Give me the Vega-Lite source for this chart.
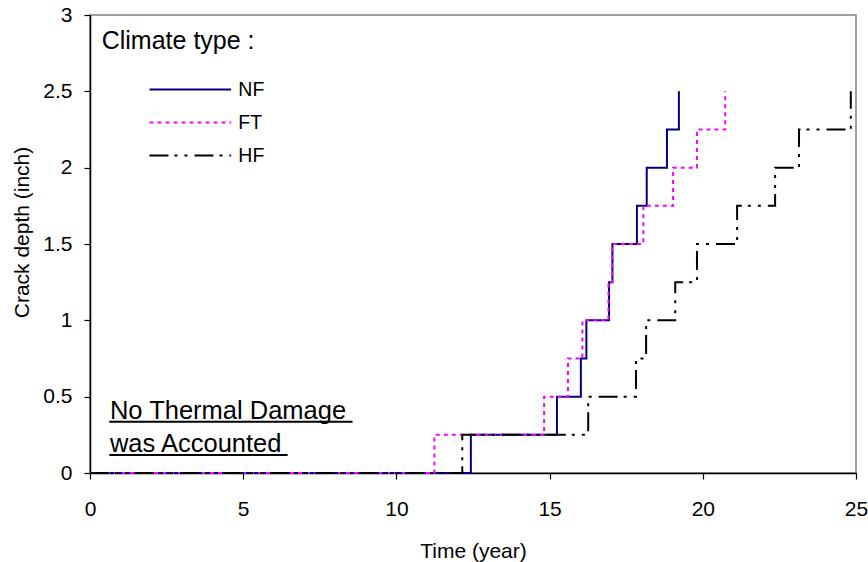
{
  "$schema": "https://vega.github.io/schema/vega-lite/v6.json",
  "width": 766,
  "height": 458,
  "autosize": {"type": "none"},
  "padding": {"left": 90, "top": 15, "right": 12, "bottom": 89},
  "background": "white",
  "config": {
    "view": {"stroke": "#808080", "strokeWidth": 1.5},
    "font": "Liberation Sans",
    "axis": {
      "grid": false,
      "labelFlush": false,
      "domainColor": "#000",
      "domainWidth": 1.5,
      "tickColor": "#000",
      "tickWidth": 1.2,
      "tickSize": 6,
      "labelColor": "#000",
      "titleColor": "#000",
      "labelFont": "Liberation Sans",
      "titleFont": "Liberation Sans",
      "labelFontSize": 21,
      "titleFontSize": 21,
      "titleFontWeight": "normal"
    },
    "legend": {
      "orient": "none",
      "legendX": 11.7,
      "legendY": 13.5,
      "titleFont": "Liberation Sans",
      "titleFontSize": 25,
      "titleFontWeight": "normal",
      "titleColor": "#000",
      "titlePadding": 26,
      "labelFont": "Liberation Sans",
      "labelFontSize": 19.5,
      "labelColor": "#000",
      "labelOffset": 6,
      "symbolType": "stroke",
      "symbolSize": 6670,
      "symbolStrokeWidth": 2,
      "symbolOffset": 46.6,
      "clipHeight": 20,
      "rowPadding": 13,
      "padding": 0
    }
  },
  "datasets": {
    "steps": [
      {"climate": "NF", "t": 0, "d": 0},
      {"climate": "NF", "t": 12.43, "d": 0.25},
      {"climate": "NF", "t": 15.24, "d": 0.5},
      {"climate": "NF", "t": 16.02, "d": 0.75},
      {"climate": "NF", "t": 16.2, "d": 1.0},
      {"climate": "NF", "t": 16.94, "d": 1.25},
      {"climate": "NF", "t": 17.05, "d": 1.5},
      {"climate": "NF", "t": 17.85, "d": 1.75},
      {"climate": "NF", "t": 18.17, "d": 2.0},
      {"climate": "NF", "t": 18.83, "d": 2.25},
      {"climate": "NF", "t": 19.22, "d": 2.5},
      {"climate": "FT", "t": 0, "d": 0},
      {"climate": "FT", "t": 11.24, "d": 0.25},
      {"climate": "FT", "t": 14.82, "d": 0.5},
      {"climate": "FT", "t": 15.6, "d": 0.75},
      {"climate": "FT", "t": 16.07, "d": 1.0},
      {"climate": "FT", "t": 16.92, "d": 1.25},
      {"climate": "FT", "t": 17.05, "d": 1.5},
      {"climate": "FT", "t": 18.06, "d": 1.75},
      {"climate": "FT", "t": 19.03, "d": 2.0},
      {"climate": "FT", "t": 19.81, "d": 2.25},
      {"climate": "FT", "t": 20.73, "d": 2.5},
      {"climate": "HF", "t": 0, "d": 0},
      {"climate": "HF", "t": 12.15, "d": 0.25},
      {"climate": "HF", "t": 16.26, "d": 0.5},
      {"climate": "HF", "t": 17.82, "d": 0.75},
      {"climate": "HF", "t": 18.15, "d": 1.0},
      {"climate": "HF", "t": 19.1, "d": 1.25},
      {"climate": "HF", "t": 19.81, "d": 1.5},
      {"climate": "HF", "t": 21.12, "d": 1.75},
      {"climate": "HF", "t": 22.36, "d": 2.0},
      {"climate": "HF", "t": 23.14, "d": 2.25},
      {"climate": "HF", "t": 24.83, "d": 2.5}
    ],
    "notes": [
      {"label": "No Thermal Damage", "t": 0.65, "d": 0.354},
      {"label": "was Accounted", "t": 0.65, "d": 0.14}
    ],
    "underlines": [
      {"t": 0.63, "t2": 8.57, "d": 0.336},
      {"t": 0.63, "t2": 6.45, "d": 0.118}
    ]
  },
  "layer": [
    {
      "data": {"name": "steps"},
      "mark": {"type": "line", "interpolate": "step-after", "strokeWidth": 2},
      "encoding": {
        "x": {
          "field": "t",
          "type": "quantitative",
          "scale": {"domain": [0, 25], "nice": false},
          "axis": {
            "values": [0, 5, 10, 15, 20, 25],
            "format": "~g",
            "title": "Time (year)",
            "labelPadding": 19,
            "titleY": 84,
            "titleBaseline": "alphabetic"
          }
        },
        "y": {
          "field": "d",
          "type": "quantitative",
          "scale": {"domain": [0, 3], "nice": false},
          "axis": {
            "values": [0, 0.5, 1, 1.5, 2, 2.5, 3],
            "format": "~g",
            "title": "Crack depth (inch)",
            "labelPadding": 12,
            "titleX": -61.5,
            "titleY": 217,
            "titleBaseline": "alphabetic"
          }
        },
        "color": {
          "field": "climate",
          "type": "nominal",
          "sort": ["NF", "FT", "HF"],
          "scale": {"domain": ["NF", "FT", "HF"], "range": ["#000080", "#FF00FF", "#000000"]},
          "legend": {"title": "Climate type :"}
        },
        "strokeDash": {
          "field": "climate",
          "type": "nominal",
          "sort": ["NF", "FT", "HF"],
          "scale": {"domain": ["NF", "FT", "HF"], "range": [[1, 0], [4, 4], [19, 6, 3, 7, 3, 7]]},
          "legend": {"title": "Climate type :"}
        }
      }
    },
    {
      "data": {"name": "notes"},
      "mark": {"type": "text", "align": "left", "baseline": "alphabetic", "fontSize": 25.5, "font": "Liberation Sans", "color": "#000"},
      "encoding": {
        "x": {"field": "t", "type": "quantitative"},
        "y": {"field": "d", "type": "quantitative"},
        "text": {"field": "label"}
      }
    },
    {
      "data": {"name": "underlines"},
      "mark": {"type": "rule", "strokeWidth": 2, "color": "#000"},
      "encoding": {
        "x": {"field": "t", "type": "quantitative"},
        "x2": {"field": "t2"},
        "y": {"field": "d", "type": "quantitative"}
      }
    }
  ]
}
